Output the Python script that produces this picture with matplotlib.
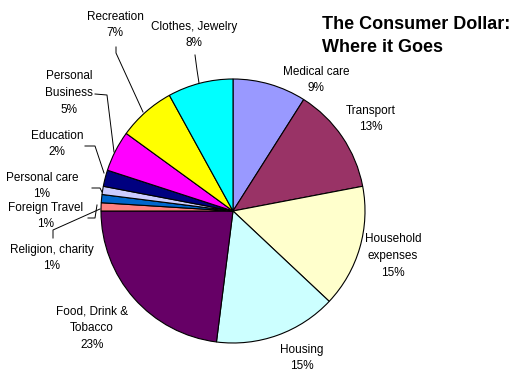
import matplotlib
matplotlib.use("Agg")
import matplotlib.pyplot as plt

W, H = 530, 382

categories = ["Medical care", "Transport", "Household\nexpenses", "Housing",
              "Food, Drink &\nTobacco", "Religion, charity", "Foreign Travel",
              "Personal care", "Education", "Personal\nBusiness", "Recreation",
              "Clothes, Jewelry"]
values = [9, 13, 15, 15, 23, 1, 1, 1, 2, 5, 7, 8]
colors = ["#9999FF", "#993366", "#FFFFCC", "#CCFFFF", "#660066", "#FF8080",
          "#0066CC", "#CCCCFF", "#000080", "#FF00FF", "#FFFF00", "#00FFFF"]

# label text centres (image pixel coords, y down)
label_pos = [(316, 80), (371, 119), (393, 256), (302, 358), (92, 328),
             (52, 258), (46, 216), (42, 186), (57, 144), (69, 93),
             (115, 25), (194, 35)]

# leader lines (image pixel coords)
leaders = {
    "Recreation": [(116, 47), (116, 53), (143, 112)],
    "Clothes, Jewelry": [(195, 55), (197, 70), (199, 83)],
    "Personal\nBusiness": [(95, 94), (107, 95), (114, 152)],
    "Education": [(85, 146), (95, 146), (104, 173)],
    "Personal care": [(92, 188), (100, 188), (102, 192)],
    "Foreign Travel": [(88, 218), (95, 218), (97, 205)],
    "Religion, charity": [(53, 238), (53, 230), (100, 209)],
}

plt.rcParams['font.family'] = ['Liberation Sans', 'DejaVu Sans']

fig = plt.figure(figsize=(W / 100, H / 100), dpi=100)
ax = fig.add_axes([0, 0, 1, 1])

def P(x, y):
    return x, H - y

cx, cy = P(233, 211)
ax.pie(values, colors=colors, startangle=90, counterclock=False,
       center=(cx, cy), radius=132,
       wedgeprops=dict(edgecolor="black", linewidth=0.8), frame=True)
ax.set_xlim(0, W)
ax.set_ylim(0, H)
ax.set_aspect("equal")
ax.axis("off")

for cat, val, (x, y) in zip(categories, values, label_pos):
    ax.text(*P(x, y), f"{cat}\n{val}%", ha="center", va="center",
            fontsize=8.5, linespacing=1.55, color="black")

for cat, pts in leaders.items():
    xs = [p[0] for p in pts]
    ys = [H - p[1] for p in pts]
    ax.plot(xs, ys, color="black", linewidth=0.7)

ax.text(*P(322, 36), "The Consumer Dollar:\nWhere it Goes", ha="left",
        va="center", fontsize=13, fontweight="bold", linespacing=1.4)

fig.savefig("out.png", dpi=100)
